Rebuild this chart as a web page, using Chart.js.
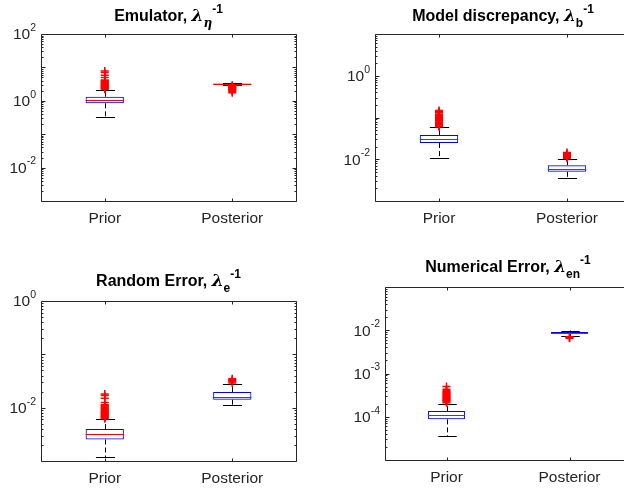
<!DOCTYPE html>
<html>
<head>
<meta charset="utf-8">
<script src="https://cdn.jsdelivr.net/npm/chart.js@4.4.1/dist/chart.umd.min.js"></script>
<style>
    html, body { margin: 0; padding: 0; background: #fff; overflow: hidden; width: 624px; height: 488px; }
    .panel { position: absolute; overflow: visible; }
</style>
</head>
<body>
<div class="panel" style="left:0px;top:0px"><canvas id="g1" width="312" height="244"></canvas></div>
<div class="panel" style="left:312px;top:0px"><canvas id="g2" width="330" height="244"></canvas></div>
<div class="panel" style="left:0px;top:244px"><canvas id="g3" width="312" height="244"></canvas></div>
<div class="panel" style="left:312px;top:244px"><canvas id="g4" width="330" height="244"></canvas></div>
<script>
// categories shared by all four panels
const categories = ['Prior', 'Posterior'];

// box stats per category: [lower whisker, q1, median, q3, upper whisker]
const emulatorBox = [[0.32, 0.84, 1.06, 1.32, 2.1], [2.95, 3.18, 3.25, 3.32, 3.45]];
const emulatorOutPrior = [2.2, 2.3, 2.4, 2.5, 2.6, 2.7, 2.8, 2.9, 3.0, 3.15, 3.3, 3.45, 3.6, 3.8, 4.0, 4.2, 5.0, 5.8, 7.0, 7.8];
const emulatorOutPost = [2.9, 2.8, 2.7, 2.6, 2.5, 2.4, 2.3, 2.2, 2.1, 2.0, 1.9, 1.75];

const discrepancyBox = [[0.0106, 0.0244, 0.0305, 0.038, 0.058], [0.00359, 0.0050, 0.00575, 0.00716, 0.0100]];
const discrepancyOutPrior = [0.06, 0.063, 0.066, 0.069, 0.072, 0.075, 0.078, 0.082, 0.086, 0.09, 0.095, 0.1, 0.105, 0.11, 0.115, 0.12, 0.13, 0.14, 0.148];
const discrepancyOutPost = [0.0105, 0.011, 0.0115, 0.012, 0.0125, 0.013, 0.0138, 0.0145];

const randomBox = [[0.00118, 0.00253, 0.00315, 0.00398, 0.0060], [0.0112, 0.0141, 0.0160, 0.0196, 0.0277]];
const randomOutPrior = [0.0062, 0.0064, 0.0066, 0.0068, 0.007, 0.0072, 0.0074, 0.0076, 0.0078, 0.008, 0.0082, 0.0085, 0.0088, 0.0091, 0.0094, 0.0097, 0.01, 0.0103, 0.0107, 0.011, 0.0114, 0.0125, 0.015, 0.017, 0.018];
const randomOutPost = [0.029, 0.0305, 0.032, 0.0335, 0.035];

const numericalBox = [[3.56e-5, 8.7e-5, 1.07e-4, 1.35e-4, 2.0e-4], [7.3e-3, 8.6e-3, 8.85e-3, 9.1e-3, 9.85e-3]];
const numericalOutPrior = [2.1e-4, 2.2e-4, 2.3e-4, 2.4e-4, 2.5e-4, 2.6e-4, 2.7e-4, 2.8e-4, 2.9e-4, 3.0e-4, 3.15e-4, 3.3e-4, 3.45e-4, 3.6e-4, 3.8e-4, 4.0e-4, 4.3e-4, 5.0e-4];
const numericalOutPost = [7.1e-3, 6.8e-3, 6.5e-3];

// y tick exponents (labels are 10^e)
const emulatorTicks = [-2, 0, 2];
const discrepancyTicks = [-2, 0];
const randomTicks = [-2, 0];
const numericalTicks = [-4, -3, -2];

// title pieces: main text, subscript, superscript
const titles = [
    ['Emulator, ', '\u03b7', '-1'],
    ['Model discrepancy, ', 'b', '-1'],
    ['Random Error, ', 'e', '-1'],
    ['Numerical Error, ', 'en', '-1']
];

const AXIS = '#262626';
const FONT = '"Liberation Sans", Arial, Helvetica, sans-serif';

const boxPlugin = {
    id: 'boxPlugin',
    beforeDatasetsDraw(chart) {
        const o = chart.options.plugins.boxPlugin;
        const ctx = chart.ctx;
        const x = chart.scales.x, y = chart.scales.y;
        const meta = chart.getDatasetMeta(1);
        ctx.save();
        o.stats.forEach((s, i) => {
            const cx = Math.round(x.getPixelForValue(i)) + 0.5;
            const half = meta.data[i].width / 2;
            const cap = half / 2;
            ctx.strokeStyle = '#000';
            ctx.lineWidth = 1;
            ctx.setLineDash([5, 3]);
            ctx.beginPath();
            ctx.moveTo(cx, y.getPixelForValue(s[3]));
            ctx.lineTo(cx, y.getPixelForValue(s[4]));
            ctx.moveTo(cx, y.getPixelForValue(s[1]));
            ctx.lineTo(cx, y.getPixelForValue(s[0]));
            ctx.stroke();
            ctx.setLineDash([]);
            ctx.beginPath();
            [s[0], s[4]].forEach(v => {
                const py = Math.round(y.getPixelForValue(v)) + 0.5;
                ctx.moveTo(cx - cap, py);
                ctx.lineTo(cx + cap, py);
            });
            ctx.stroke();
        });
        ctx.restore();
    },
    afterDatasetsDraw(chart) {
        const o = chart.options.plugins.boxPlugin;
        const ctx = chart.ctx;
        const x = chart.scales.x, y = chart.scales.y;
        const meta = chart.getDatasetMeta(1);
        const a = chart.chartArea;
        ctx.save();
        // medians
        o.stats.forEach((s, i) => {
            const cx = x.getPixelForValue(i);
            const half = meta.data[i].width / 2;
            const py = Math.round(y.getPixelForValue(s[2])) + 0.5;
            ctx.strokeStyle = '#ff0000';
            ctx.lineWidth = 1;
            ctx.beginPath();
            ctx.moveTo(cx - half, py);
            ctx.lineTo(cx + half, py);
            ctx.stroke();
        });
        // axes box
        const L = Math.round(a.left) + 0.5, R = Math.round(a.right) + 0.5;
        const T = Math.round(a.top) + 0.5, B = Math.round(a.bottom) + 0.5;
        ctx.strokeStyle = AXIS;
        ctx.lineWidth = 1;
        ctx.beginPath();
        ctx.rect(L, T, R - L, B - T);
        ctx.stroke();
        // y ticks, major and minor, both sides
        const lo = Math.round(Math.log10(y.min)), hi = Math.round(Math.log10(y.max));
        ctx.beginPath();
        for (let d = lo; d <= hi; d++) {
            for (let m = 1; m <= 9; m++) {
                const v = m * Math.pow(10, d);
                if (v < y.min * 0.999 || v > y.max * 1.001) continue;
                const py = Math.round(y.getPixelForValue(v)) + 0.5;
                const len = m === 1 ? 4 : 2;
                ctx.moveTo(L, py); ctx.lineTo(L + len, py);
                ctx.moveTo(R, py); ctx.lineTo(R - len, py);
            }
        }
        categories.forEach((c, i) => {
            const px = Math.round(x.getPixelForValue(i)) + 0.5;
            ctx.moveTo(px, B); ctx.lineTo(px, B - 3);
            ctx.moveTo(px, T); ctx.lineTo(px, T + 3);
        });
        ctx.stroke();
        // y labels 10^e
        ctx.fillStyle = AXIS;
        ctx.textBaseline = 'middle';
        o.ticks.forEach(e => {
            const py = y.getPixelForValue(Math.pow(10, e));
            ctx.font = '10.5px ' + FONT;
            const sup = e < 0 ? '-' + Math.abs(e) : String(e);
            const sw = ctx.measureText(sup).width;
            ctx.textAlign = 'right';
            ctx.fillText(sup, a.left - 5, py - 6);
            ctx.font = '15.5px ' + FONT;
            ctx.fillText('10', a.left - 5 - sw, py + 1);
        });
        // x labels
        ctx.font = '15.5px ' + FONT;
        ctx.textAlign = 'center';
        ctx.textBaseline = 'alphabetic';
        categories.forEach((c, i) => {
            ctx.fillText(c, x.getPixelForValue(i), a.bottom + 22);
        });
        // title
        const t = o.title;
        const base = a.top - o.titleGap;
        ctx.fillStyle = '#000';
        ctx.textAlign = 'left';
        const f1 = 'bold 16px ' + FONT;
        const fl = 'bold italic 17px "DejaVu Serif", serif';
        const fs = (t[1] === '\u03b7' ? 'bold italic 12px "DejaVu Serif", serif' : 'bold 12px ' + FONT);
        const fsup = 'bold 12px ' + FONT;
        ctx.font = f1; const w1 = ctx.measureText(t[0]).width;
        ctx.font = fl; const wl = ctx.measureText('\u03bb').width;
        ctx.font = fs; const ws = ctx.measureText(t[1]).width;
        ctx.font = fsup; const wsup = ctx.measureText(t[2]).width;
        const total = w1 + wl + ws + wsup;
        let tx = (a.left + a.right) / 2 - total / 2;
        ctx.font = f1; ctx.fillText(t[0], tx, base); tx += w1;
        ctx.font = fl; ctx.fillText('\u03bb', tx, base); tx += wl;
        ctx.font = fs; ctx.fillText(t[1], tx, base + 6);
        ctx.font = fsup; ctx.fillText(t[2], tx + ws, base - 8);
        ctx.restore();
    }
};

function makePanel(id, stats, outPrior, outPost, ymin, ymax, ticks, title, pad, titleGap) {
    const ctx = document.getElementById(id).getContext('2d');
    const outliers = [];
    outPrior.forEach(v => outliers.push({ x: categories[0], y: v }));
    outPost.forEach(v => outliers.push({ x: categories[1], y: v }));

    new Chart(ctx, {
        type: 'bar',
        data: {
            labels: categories,
            datasets: [{
                type: 'scatter',
                data: outliers,
                pointStyle: 'cross',
                radius: 4,
                borderColor: '#ff0000',
                borderWidth: 1.5,
                order: 0
            }, {
                type: 'bar',
                data: stats.map(s => [s[1], s[3]]),
                backgroundColor: 'rgba(0,0,0,0)',
                borderColor: '#0000ff',
                borderWidth: 1,
                borderSkipped: false,
                barPercentage: 0.3,
                categoryPercentage: 1,
                order: 1
            }]
        },
        options: {
            responsive: false,
            animation: false,
            events: [],
            layout: { padding: pad },
            plugins: {
                legend: { display: false },
                tooltip: { enabled: false },
                boxPlugin: { stats: stats, ticks: ticks, title: title, titleGap: titleGap }
            },
            scales: {
                x: { type: 'category', offset: true, display: false },
                y: { type: 'logarithmic', min: ymin, max: ymax, display: false }
            }
        },
        plugins: [boxPlugin]
    });
}

makePanel('g1', emulatorBox, emulatorOutPrior, emulatorOutPost, 1e-3, 1e2, emulatorTicks, titles[0],
    { left: 41, top: 34, right: 16, bottom: 43 }, 13);
makePanel('g2', discrepancyBox, discrepancyOutPrior, discrepancyOutPost, 1e-3, 1e1, discrepancyTicks, titles[1],
    { left: 63, top: 34, right: 11, bottom: 43 }, 13);
makePanel('g3', randomBox, randomOutPrior, randomOutPost, 1e-3, 1e0, randomTicks, titles[2],
    { left: 41, top: 57, right: 16, bottom: 27 }, 15);
makePanel('g4', numericalBox, numericalOutPrior, numericalOutPost, 1e-5, 1e-1, numericalTicks, titles[3],
    { left: 73, top: 43, right: 11, bottom: 28 }, 15);
</script>
</body>
</html>
